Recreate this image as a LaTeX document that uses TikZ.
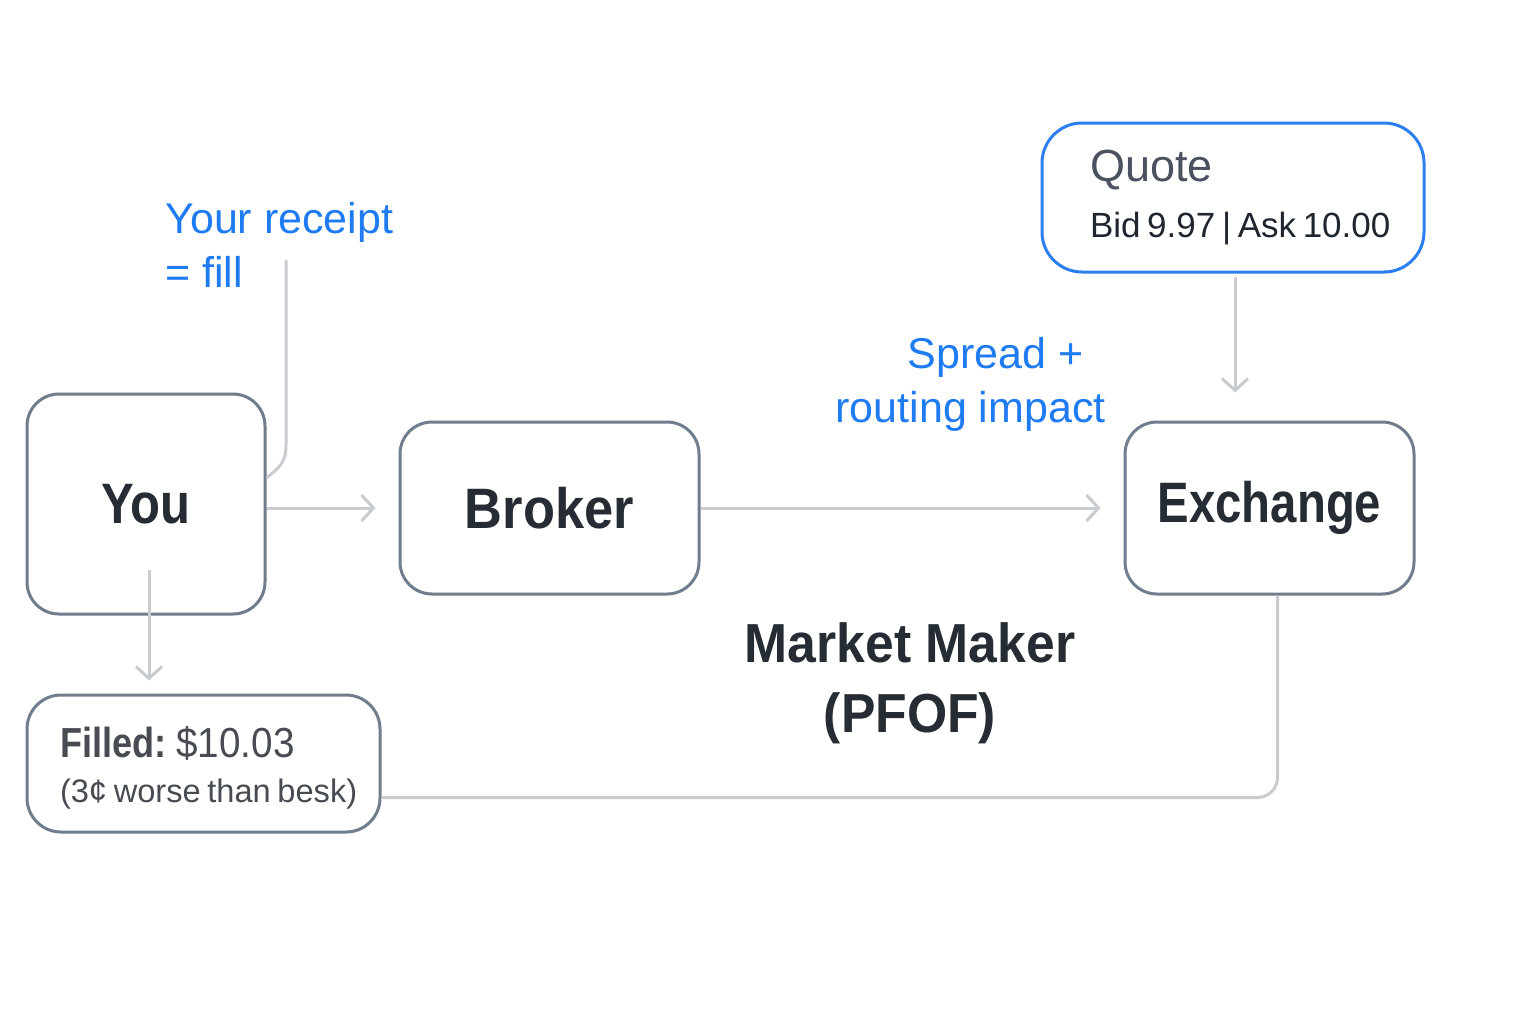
\documentclass[tikz,border=0pt]{standalone}
\usepackage{fontspec}
\setmainfont{Liberation Sans}[BoldFeatures={FakeStretch=0.86}]
\newfontfamily\mmfont{Liberation Sans}[BoldFeatures={FakeStretch=0.94}]
\newfontfamily\exfont{Liberation Sans}[BoldFeatures={FakeStretch=0.83}]
\newfontfamily\brfont{Liberation Sans}[BoldFeatures={FakeStretch=0.92}]
\newfontfamily\numfont{Liberation Sans}[FakeStretch=0.92]
\usetikzlibrary{arrows.meta}
\definecolor{boxline}{HTML}{6F7D8C}
\definecolor{txtdark}{HTML}{262C33}
\definecolor{connc}{HTML}{C8CBCF}
\definecolor{bluet}{HTML}{1E7BF2}
\definecolor{quoteb}{HTML}{2B7FF0}
\definecolor{quotet}{HTML}{4A5260}
\definecolor{bidt}{HTML}{1F2630}
\definecolor{fillt}{HTML}{484C52}
\tikzset{
  mainbox/.style={draw=boxline, line width=1.5pt, rounded corners=16pt, fill=white,
    text=txtdark, font=\fontsize{28.5}{34}\selectfont\bfseries, inner sep=0pt},
  conn/.style={draw=connc, line width=1.5pt},
  arr/.style={conn, -{Straight Barb[length=6pt,width=13pt,line width=1.5pt]}},
  bluelabel/.style={text=bluet, font=\fontsize{21.5}{27}\selectfont, inner sep=0pt},
}
\begin{document}
\begin{tikzpicture}[x=0.5pt,y=-0.5pt]
\useasboundingbox[fill=white] (0,0) rectangle (1536,1024);

% main boxes
\node[mainbox, minimum width=119pt, minimum height=110pt] (you) at (146,504) {You};
\node[mainbox, minimum width=149.5pt, minimum height=86pt] (broker) at (549.5,508) {\brfont\bfseries Broker};
\node[mainbox, minimum width=144.5pt, minimum height=86pt] (exchange) at (1269.5,508) {\exfont\bfseries Exchange};

% quote box
\node[draw=quoteb, line width=1.5pt, rounded corners=20pt, fill=white,
  minimum width=191pt, minimum height=74.5pt, text width=143pt, inner xsep=24pt, inner ysep=0pt,
  align=left] (quote) at (1233,197.5)
  {\fontsize{22.5}{25.5}\selectfont\color{quotet}Quote\\[10.5pt]
   \fontsize{17.5}{25.5}\selectfont\color{bidt}\mbox{Bid 9.97 | Ask 10.00}};

% filled box
\node[draw=boxline, line width=1.5pt, rounded corners=17pt, fill=white,
  minimum width=176.5pt, minimum height=68.5pt, text width=143.5pt, inner xsep=16.5pt, inner ysep=0pt,
  align=left, text=fillt] (filled) at (203.5,763.5)
  {\rule{0pt}{20pt}\fontsize{21}{23}\selectfont\mbox{\textbf{Filled:} {\numfont\$10.03}}\\[8pt]
   \fontsize{16.3}{23}\selectfont\mbox{(3¢ worse than besk)}};

% labels
\node[bluelabel, align=left, anchor=north west] (receipt) at (165,202) {Your receipt\\= fill};
\node[bluelabel, align=right, anchor=north east] (spread) at (1106,337) {Spread +\hspace*{11pt}\\routing impact};
\node[text=txtdark, font=\fontsize{27.5}{35}\selectfont\mmfont\bfseries, align=center, inner sep=0pt] (mm) at (910,683) {Market Maker\\(PFOF)};

% connectors
\draw[arr, shorten >=11.5pt] (you.east |- broker.west) -- (broker.west);
\draw[arr, shorten >=11.5pt] (broker.east) -- (exchange.west);
\draw[arr, shorten <=1.5pt, shorten >=14pt] ([xshift=1pt]quote.south) -- ([xshift=1pt]quote.south |- exchange.north);
\draw[arr, shorten >=6.5pt] ([xshift=1.5pt,yshift=-33pt]you.center) -- ([xshift=1.5pt]you.center |- filled.north);
\coordinate (rtop) at (286,260);
\draw[conn] (rtop) -- (286,445) .. controls (286,464) and (278,468) .. ([yshift=13pt]you.east);
\draw[conn, rounded corners=10pt] ([xshift=4pt]exchange.south) |- ([yshift=-17pt]filled.east);
\end{tikzpicture}
\end{document}
